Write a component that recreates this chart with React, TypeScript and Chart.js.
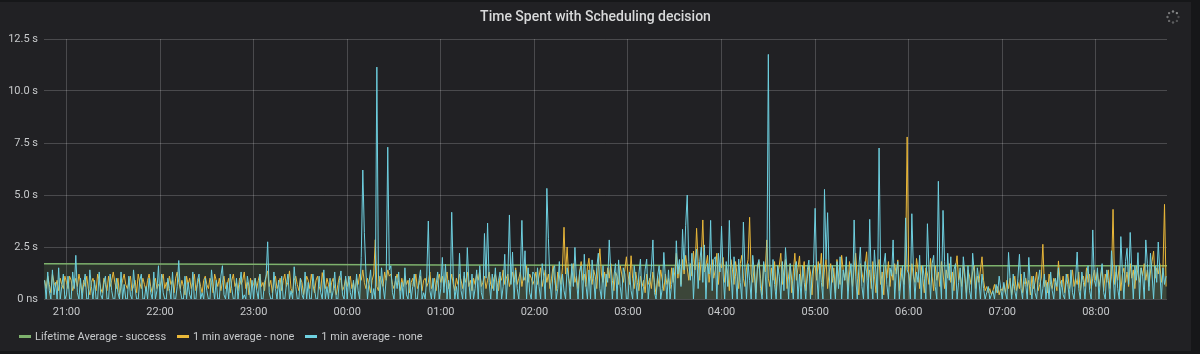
import React, { useEffect, useRef } from 'react';
import { Chart, registerables } from 'chart.js';

Chart.register(...registerables);

// minutes relative to 21:00; first sample is 20:46, one sample per minute
const START_MINUTE = -14;
const X_MIN = -14.4;
const X_MAX = 705.6;
const HOUR_TICKS = [0, 60, 120, 180, 240, 300, 360, 420, 480, 540, 600, 660];
const Y_TICKS = [0, 2.5, 5, 7.5, 10, 12.5];

const TITLE = 'Time Spent with Scheduling decision';
const LEGEND_LABELS = ['Lifetime Average - success', '1 min average - none', '1 min average - none'];

// "1 min average - none" (light blue), seconds
const cyanValues = [
  // 20:46-20:59
  0.9, 0, 1.3, 0.4, 0, 1.4, 0.2, 0.8, 0, 1.5, 0, 0.6, 1.2, 0,
  // 21:00
  0.2, 1.1, 0, 0, 1.3, 0.5, 2.1, 0.3, 0, 1.0,
  0, 0.7, 1.2, 0, 0, 1.4, 0.6, 0, 0.9, 0,
  0, 1.3, 0.2, 0, 0.8, 1.1, 0, 0, 1.2, 0.4,
  0, 0, 1.0, 0.3, 0, 1.3, 0, 0.7, 0, 0,
  1.1, 0.2, 0, 1.4, 0.5, 0, 0, 0.9, 1.2, 0,
  0, 0.6, 0, 1.0, 0.3, 0, 1.3, 0, 0.4, 1.6,
  // 22:00
  0, 1.2, 0.3, 0, 0, 1.0, 0.5, 0, 1.3, 0,
  0, 0.6, 1.85, 0.4, 0, 0, 1.1, 0, 0.8, 0.2,
  0, 1.3, 0, 0, 0.9, 1.2, 0, 0.3, 0, 1.0,
  0.4, 0, 0, 1.4, 0.6, 0, 0.9, 0, 0, 1.1,
  1.6, 0.2, 0, 0.8, 0, 1.2, 0.5, 0, 0, 1.0,
  0, 0.7, 1.3, 0, 0.2, 0, 1.1, 0.6, 0, 0.9,
  // 23:00
  0, 1.0, 0.4, 0, 1.2, 0, 0, 0.8, 1.1, 2.75,
  0.3, 0, 0, 1.3, 0.5, 0, 0.9, 0, 1.1, 0,
  0, 0.7, 1.2, 0, 0.4, 0, 1.55, 0.6, 0, 0,
  1.0, 0.2, 0, 1.3, 0, 0.8, 0, 0, 1.2, 0.5,
  0, 0, 1.1, 0.3, 0, 1.4, 0, 0.6, 0, 1.0,
  0, 0.4, 1.3, 0, 0, 0.9, 1.35, 0.2, 0, 1.1,
  // 00:00
  0, 1.1, 0.3, 0, 0.9, 0, 1.2, 0.4, 0, 2.0,
  6.2, 3.2, 1.3, 0, 0.8, 1.4, 0, 0.5, 0, 11.15,
  1.2, 0, 1.5, 0.6, 0, 1.0, 7.3, 1.4, 1.6, 0.3,
  0, 1.1, 0.5, 1.3, 0, 0.8, 0, 1.5, 0.2, 0,
  1.0, 0, 0.6, 1.2, 0, 0, 0.9, 1.4, 0, 0.3,
  0, 1.1, 3.75, 0.4, 0, 1.0, 0, 0.7, 1.3, 0,
  // 01:00
  0.5, 2.0, 0.3, 1.67, 0, 0.9, 0, 4.17, 1.1, 0,
  0.6, 0, 2.2, 0.4, 0, 1.3, 0, 2.47, 0.8, 0,
  1.2, 0, 0.5, 1.4, 0, 1.6, 0.3, 0, 3.15, 1.0,
  3.65, 0.8, 0, 1.2, 0.4, 1.5, 0, 0.9, 1.3, 0,
  0.6, 2.15, 0, 1.1, 4.04, 0.7, 2.26, 0, 1.4, 0.5,
  0, 1.2, 3.78, 0.9, 2.32, 0, 1.5, 0.3, 0, 1.3,
  // 02:00
  1.2, 0, 1.5, 0.6, 0, 1.7, 1.1, 0, 5.32, 2.9,
  0.8, 0, 1.4, 1.6, 0, 0.5, 1.8, 0, 1.2, 0.4,
  0, 1.5, 1.0, 0, 1.7, 0.6, 2.48, 0.9, 0, 1.3,
  1.6, 0, 2.15, 0.7, 0, 1.4, 0, 1.88, 1.0, 0,
  1.5, 2.2, 0.5, 0, 1.6, 0, 1.2, 0.8, 2.84, 1.3,
  0, 1.1, 1.7, 0, 1.88, 0.6, 0, 1.5, 1.2, 0,
  // 03:00
  0, 1.3, 0.4, 0, 1.6, 0.9, 0, 1.2, 1.92, 0,
  0.6, 1.4, 1.92, 0, 0.8, 1.5, 2.84, 0.3, 0, 1.1,
  1.6, 0, 0.5, 2.24, 1.0, 0, 1.4, 0, 0.7, 1.5,
  0, 2.8, 1.2, 1.9, 0.6, 3.35, 1.4, 3.54, 5.0, 1.8,
  0.9, 2.2, 0, 1.6, 2.4, 0.5, 1.8, 2.5, 0.8, 2.6,
  0, 1.7, 1.2, 3.78, 0.4, 1.9, 2.03, 0, 2.2, 1.3,
  // 04:00
  3.5, 1.2, 0, 1.8, 0.6, 3.78, 1.4, 0, 2.03, 1.1,
  0, 1.92, 0.8, 0, 3.7, 1.5, 0, 1.7, 0.9, 0,
  2.1, 1.3, 0, 1.6, 1.9, 0.5, 0, 1.8, 1.2, 0,
  11.76, 1.5, 0, 1.9, 0.7, 0, 1.6, 1.1, 0, 1.8,
  0.4, 2.47, 1.3, 0, 1.7, 0.9, 0, 1.5, 1.8, 0,
  1.2, 0, 1.6, 0.8, 0, 1.4, 1.87, 0, 1.1, 1.7,
  // 05:00
  4.36, 1.3, 0, 1.7, 0.8, 0, 5.27, 1.9, 4.15, 1.2,
  0, 1.6, 1.0, 0, 1.8, 0.5, 2.03, 0, 1.4, 0.9,
  2.03, 0, 1.2, 1.7, 0, 3.8, 1.1, 0, 1.5, 2.5,
  0.6, 0, 1.8, 1.3, 0, 3.83, 0.9, 0, 2.36, 1.2,
  0, 7.26, 1.4, 0, 1.6, 2.2, 0.7, 0, 1.5, 1.1,
  2.84, 0, 1.3, 1.8, 0, 0.9, 1.6, 0, 3.9, 1.4,
  // 06:00
  1.2, 0, 4.1, 1.5, 0, 1.3, 0.8, 2.1, 0, 1.6,
  1.0, 0, 3.62, 1.4, 0, 1.7, 2.1, 0.6, 0, 5.66,
  1.3, 0, 4.26, 1.8, 0, 2.2, 0.9, 2.03, 0, 1.4,
  1.7, 0, 0.8, 1.5, 0, 2.03, 1.2, 0, 1.6, 0.4,
  0, 2.2, 1.3, 0, 1.5, 0.9, 0, 1.2, 0.5, 0,
  0.3, 0.6, 0, 0.2, 0.4, 0, 0.7, 0.3, 1.1, 0.5,
  // 07:00
  0, 0.8, 0.3, 0, 2.24, 0.9, 0, 1.2, 0.4, 0,
  1.0, 2.15, 0.5, 0, 1.3, 0.7, 0, 2.0, 0.6, 0,
  1.1, 0.3, 0, 0.9, 1.4, 0, 0.5, 1.2, 0, 0.8,
  0, 1.3, 0.4, 0, 1.0, 0.6, 1.5, 0, 0.9, 0.2,
  0, 1.2, 0.7, 0, 1.4, 0.3, 0, 1.0, 2.26, 0.5,
  0, 1.3, 0.8, 0, 1.1, 1.6, 0.4, 0, 3.32, 0.9,
  // 08:00-08:45
  0.6, 1.5, 0, 1.1, 1.7, 0.3, 0, 1.4, 0.9, 0,
  2.32, 1.2, 0, 1.6, 0.5, 0, 3.0, 1.3, 0, 1.8,
  2.44, 0.7, 3.2, 1.4, 0, 1.6, 0.9, 2.23, 0, 1.5,
  1.1, 0, 2.84, 1.7, 0.4, 2.2, 1.2, 0, 1.6, 0.8,
  2.74, 1.3, 0, 1.5, 0.7, 1.1,
];

// "1 min average - none" (yellow), seconds
const yellowValues = [
  // 20:46-20:59
  0.9, 0.5, 1.1, 0.7, 0.3, 1.2, 0.8, 0.6, 0.9, 0.4, 1.0, 0.7, 0.5, 1.1,
  // 21:00
  0.8, 0.5, 1.1, 0.9, 0.4, 0.7, 1.0, 0.6, 1.2, 0.8,
  0.3, 0.9, 0.6, 1.1, 0.5, 0.2, 0.8, 1.0, 0.7, 0.4,
  1.2, 0.9, 0.5, 0.3, 1.0, 0.7, 0.4, 1.1, 0.6, 0.9,
  1.3, 0.8, 0.5, 1.0, 0.2, 0.6, 0.9, 1.2, 0.7, 0.5,
  0.8, 1.1, 0.4, 0.6, 0.9, 0.3, 1.2, 0.8, 0.5, 1.0,
  0.7, 0.4, 0.9, 1.2, 0.6, 0.3, 0.8, 1.0, 0.5, 0.7,
  // 22:00
  0.6, 0.9, 1.2, 0.5, 0.8, 0.4, 1.1, 0.7, 0.9, 0.3,
  1.0, 1.3, 0.8, 0.5, 0.9, 0.6, 0.2, 1.1, 0.7, 1.0,
  0.5, 0.8, 1.2, 0.4, 0.7, 1.0, 0.6, 0.3, 0.9, 1.1,
  0.7, 0.5, 1.0, 0.8, 0.3, 1.2, 0.9, 0.6, 1.0, 0.4,
  0.8, 1.1, 0.5, 0.7, 1.0, 0.3, 0.9, 1.2, 0.6, 0.8,
  0.4, 1.0, 0.7, 0.9, 1.3, 0.5, 0.8, 0.2, 1.0, 0.6,
  // 23:00
  0.7, 1.0, 0.5, 0.9, 1.2, 0.6, 0.8, 0.4, 1.1, 1.35,
  0.6, 0.9, 0.3, 0.8, 1.1, 0.5, 0.7, 1.0, 0.4, 0.9,
  1.2, 0.6, 0.8, 1.35, 0.5, 0.3, 0.9, 1.1, 0.7, 0.4,
  1.0, 0.8, 0.2, 0.6, 1.1, 0.9, 0.5, 1.2, 0.7, 0.3,
  0.9, 1.1, 0.6, 0.4, 1.27, 0.8, 0.5, 1.0, 0.7, 0.3,
  0.8, 1.0, 0.5, 0.2, 0.7, 1.1, 0.9, 0.4, 0.6, 1.0,
  // 00:00
  0.6, 0.9, 1.1, 0.5, 0.8, 0.3, 1.0, 0.7, 1.2, 0.9,
  1.4, 0.8, 0.5, 1.0, 0.7, 0.3, 0.9, 1.2, 2.85, 0.6,
  0.4, 1.1, 0.8, 0.6, 1.3, 0.9, 1.4, 1.1, 1.2, 0.7,
  0.5, 0.9, 1.2, 0.8, 0.4, 1.0, 0.6, 1.1, 0.7, 0.9,
  0.3, 0.8, 1.0, 0.6, 1.2, 0.5, 0.7, 1.1, 0.4, 0.9,
  1.0, 0.6, 0.8, 1.3, 0.5, 0.7, 1.0, 0.4, 0.9, 1.2,
  // 01:00
  0.8, 1.1, 0.6, 0.9, 1.3, 0.5, 0.8, 1.2, 0.7, 0.4,
  1.0, 0.7, 1.2, 0.9, 0.5, 1.1, 0.8, 1.3, 0.6, 0.9,
  0.4, 1.0, 0.7, 1.2, 0.9, 1.4, 0.6, 0.8, 1.1, 0.5,
  0.9, 1.3, 0.7, 0.5, 1.0, 1.2, 0.8, 0.4, 1.1, 0.9,
  1.4, 0.7, 1.0, 1.2, 0.6, 0.9, 1.3, 0.8, 1.5, 0.7,
  1.0, 1.3, 0.6, 1.1, 0.9, 1.6, 0.8, 1.2, 1.0, 0.7,
  // 02:00
  0.9, 1.3, 0.7, 1.1, 1.5, 0.6, 1.0, 1.4, 0.8, 1.2,
  0.5, 1.0, 1.6, 0.9, 0.4, 1.3, 1.1, 0.7, 1.5, 3.45,
  1.2, 2.5, 1.0, 0.6, 1.4, 1.7, 0.8, 1.1, 0.5, 1.3,
  1.8, 0.9, 1.2, 0.6, 1.5, 1.96, 1.0, 0.7, 1.4, 1.1,
  0.5, 1.6, 2.42, 1.2, 0.8, 1.3, 0.6, 1.5, 1.0, 1.7,
  0.9, 0.4, 1.3, 1.1, 0.7, 1.6, 1.2, 0.8, 1.4, 2.03,
  // 03:00
  1.2, 0.7, 2.08, 1.0, 0.5, 1.3, 0.8, 0.4, 1.1, 0.6,
  0.9, 0.3, 1.2, 0.7, 1.0, 0.5, 1.3, 0.8, 0.2, 1.1,
  0.6, 1.4, 0.9, 0.4, 1.2, 0.7, 1.0, 0.5, 1.5, 0.8,
  1.3, 2.2, 1.0, 1.6, 0.7, 1.9, 1.2, 2.1, 1.5, 0.9,
  1.7, 1.1, 2.3, 1.4, 3.4, 1.8, 0.9, 2.0, 3.8, 1.3,
  1.6, 2.1, 0.8, 1.5, 1.9, 1.0, 1.4, 2.2, 0.7, 1.7,
  // 04:00
  1.5, 2.0, 0.8, 1.6, 1.2, 0.4, 1.9, 1.4, 0.7, 1.8,
  1.1, 0.5, 1.7, 2.1, 1.0, 0.6, 1.5, 1.9, 3.93, 1.2,
  0.8, 1.6, 0.3, 1.4, 1.8, 1.0, 0.2, 1.7, 1.3, 2.84,
  1.0, 0.6, 1.5, 0.9, 1.8, 0.4, 1.2, 1.6, 2.2, 0.7,
  1.4, 1.9, 0.5, 1.1, 1.7, 0.3, 1.3, 2.2, 0.9, 1.5,
  2.07, 0.6, 1.2, 1.8, 0.4, 1.0, 1.6, 1.3, 0.2, 1.5,
  // 05:00
  1.6, 0.9, 1.8, 1.2, 2.2, 0.6, 1.4, 1.9, 0.5, 1.3,
  1.7, 0.8, 1.5, 0.3, 1.9, 1.1, 0.7, 2.1, 1.4, 0.9,
  1.6, 0.4, 1.8, 1.2, 0.6, 1.5, 2.2, 1.0, 0.2, 1.7,
  1.3, 0.8, 1.6, 2.27, 0.9, 1.4, 0.5, 1.8, 1.1, 0.3,
  1.5, 1.9, 0.7, 1.3, 0.2, 1.6, 1.0, 1.8, 0.6, 1.4,
  0.9, 1.7, 1.2, 1.88, 0.4, 1.5, 1.1, 0.7, 1.6, 7.79,
  // 06:00
  1.3, 0.6, 1.7, 1.1, 0.8, 1.95, 1.4, 0.5, 1.6, 1.0,
  0.3, 1.5, 1.2, 0.7, 1.95, 1.1, 0.4, 1.6, 0.9, 1.3,
  0.6, 1.8, 1.2, 0.5, 1.4, 1.0, 1.7, 0.8, 1.3, 0.4,
  1.5, 2.08, 0.9, 1.2, 0.6, 1.6, 1.0, 0.3, 1.4, 1.1,
  0.7, 1.3, 1.6, 0.5, 1.1, 0.8, 1.4, 2.03, 0.9, 0.4,
  0.6, 0.3, 0.5, 0.2, 0.4, 0.7, 0.3, 0.6, 0.2, 0.5,
  // 07:00
  0.4, 0.7, 0.3, 0.9, 0.5, 1.0, 0.2, 0.6, 1.1, 0.4,
  0.8, 0.5, 1.2, 0.3, 0.7, 1.0, 0.6, 0.9, 0.2, 1.1,
  0.5, 0.8, 1.3, 0.4, 0.7, 1.0, 2.63, 0.6, 0.9, 0.3,
  1.2, 0.7, 0.5, 1.0, 0.8, 0.4, 1.83, 0.9, 0.6, 1.1,
  0.3, 0.8, 1.2, 0.5, 0.9, 1.4, 0.6, 1.0, 0.7, 1.3,
  0.4, 0.9, 1.1, 0.6, 1.5, 0.8, 1.2, 0.5, 1.0, 1.4,
  // 08:00-08:45
  0.9, 1.3, 0.6, 1.0, 1.5, 0.4, 1.2, 0.8, 1.4, 0.5,
  1.1, 4.31, 0.7, 1.3, 0.9, 1.6, 0.4, 1.2, 1.5, 0.8,
  1.3, 0.6, 1.7, 1.0, 1.4, 0.5, 1.6, 1.2, 0.8, 1.5,
  1.1, 1.7, 0.9, 1.4, 0.6, 1.3, 1.8, 2.3, 1.0, 1.5,
  1.2, 1.7, 0.8, 1.4, 4.55, 0.6,
];

// "Lifetime Average - success" (green), seconds
const lifetimeMinutes = [-14.4, 120, 240, 360, 480, 705.6];
const lifetimeValues = [1.7, 1.67, 1.64, 1.62, 1.6, 1.6];

const GREEN = '#7EB26D';
const YELLOW = '#EAB839';
const CYAN = '#6ED0E0';
const GRID = 'rgba(255,255,255,0.19)';
const TICK_COLOR = '#c7c9cb';
const FONT = "Roboto, 'Helvetica Neue', Arial, sans-serif";

function hourLabel(v: number): string {
  const h = (21 + Math.round(v / 60)) % 24;
  return String(h).padStart(2, '0') + ':00';
}

function yLabel(v: number): string {
  return v === 0 ? '0 ns' : v.toFixed(1) + ' s';
}

export default function App() {
  const canvasRef = useRef<HTMLCanvasElement | null>(null);

  useEffect(() => {
    const canvas = canvasRef.current;
    if (!canvas) return;
    Chart.defaults.font.family = FONT;
    const toPoints = (vals: number[]) => vals.map((y, i) => ({ x: START_MINUTE + i, y }));
    const chart = new Chart(canvas, {
      type: 'line',
      data: {
        datasets: [
          {
            label: LEGEND_LABELS[2],
            data: toPoints(cyanValues),
            borderColor: CYAN,
            backgroundColor: 'rgba(110,208,224,0.07)',
            fill: 'origin',
            borderWidth: 1,
            pointRadius: 0,
            tension: 0,
          },
          {
            label: LEGEND_LABELS[1],
            data: toPoints(yellowValues),
            borderColor: YELLOW,
            backgroundColor: 'rgba(234,184,57,0.07)',
            fill: 'origin',
            borderWidth: 1,
            pointRadius: 0,
            tension: 0,
          },
          {
            label: LEGEND_LABELS[0],
            data: lifetimeMinutes.map((x, i) => ({ x, y: lifetimeValues[i] })),
            borderColor: GREEN,
            backgroundColor: 'rgba(126,178,109,0.12)',
            fill: 'origin',
            borderWidth: 1.5,
            pointRadius: 0,
            tension: 0,
          },
        ],
      },
      options: {
        responsive: false,
        maintainAspectRatio: false,
        animation: false,
        events: [],
        layout: { padding: { top: 39, right: 24, left: 0, bottom: 0 } },
        plugins: {
          legend: { display: false },
          tooltip: { enabled: false },
          title: { display: false },
        },
        scales: {
          x: {
            type: 'linear',
            min: X_MIN,
            max: X_MAX,
            afterBuildTicks: (scale: any) => {
              scale.ticks = HOUR_TICKS.map((value) => ({ value }));
            },
            afterFit: (scale: any) => {
              scale.height = 31;
            },
            ticks: {
              autoSkip: false,
              maxRotation: 0,
              padding: 7,
              color: TICK_COLOR,
              font: { size: 11, family: FONT },
              callback: (v: any) => hourLabel(Number(v)),
            },
            grid: { color: GRID, drawTicks: false, lineWidth: 1 },
            border: { display: false },
          },
          y: {
            type: 'linear',
            min: 0,
            max: 12.5,
            afterBuildTicks: (scale: any) => {
              scale.ticks = Y_TICKS.map((value) => ({ value }));
            },
            afterFit: (scale: any) => {
              scale.width = 44;
            },
            ticks: {
              padding: 6,
              color: TICK_COLOR,
              font: { size: 11, family: FONT },
              callback: (v: any) => yLabel(Number(v)),
            },
            grid: { color: GRID, drawTicks: false, lineWidth: 1 },
            border: { display: false },
          },
        },
      },
    } as any);
    return () => chart.destroy();
  }, []);

  const legendColors = [GREEN, YELLOW, CYAN];

  return (
    <div
      style={{
        position: 'fixed',
        left: 0,
        top: 0,
        width: 1200,
        height: 354,
        background: '#161719',
        fontFamily: FONT,
        overflow: 'hidden',
      }}
    >
      <div
        style={{
          position: 'absolute',
          left: 0,
          top: 2,
          width: 1191,
          height: 349,
          background: '#212124',
        }}
      />
      <canvas
        ref={canvasRef}
        width={1191}
        height={330}
        style={{ position: 'absolute', left: 0, top: 0, display: 'block' }}
      />
      <div
        style={{
          position: 'absolute',
          left: 0,
          top: 7,
          width: 1191,
          textAlign: 'center',
          fontSize: 14,
          fontWeight: 500,
          lineHeight: '18px',
          color: '#d8d9da',
        }}
      >
        {TITLE}
      </div>
      <svg
        width={18}
        height={18}
        style={{ position: 'absolute', left: 1164, top: 8 }}
        viewBox="0 0 18 18"
      >
        {[0, 1, 2, 3, 4, 5, 6, 7].map((k) => {
          const a = (k / 8) * Math.PI * 2;
          return (
            <circle
              key={k}
              cx={9 + 5.5 * Math.cos(a)}
              cy={9 + 5.5 * Math.sin(a)}
              r={1.2}
              fill="#9a9b9c"
              opacity={0.35 + (k / 8) * 0.6}
            />
          );
        })}
      </svg>
      <div
        style={{
          position: 'absolute',
          left: 19,
          top: 328,
          height: 16,
          display: 'flex',
          alignItems: 'center',
          fontSize: 11,
          color: '#c7c9cb',
          whiteSpace: 'nowrap',
        }}
      >
        {LEGEND_LABELS.map((label, i) => (
          <div key={i} style={{ display: 'flex', alignItems: 'center', marginRight: 11 }}>
            <span
              style={{
                display: 'inline-block',
                width: 12,
                height: 3,
                background: legendColors[i],
                marginRight: 4,
              }}
            />
            <span>{label}</span>
          </div>
        ))}
      </div>
    </div>
  );
}
